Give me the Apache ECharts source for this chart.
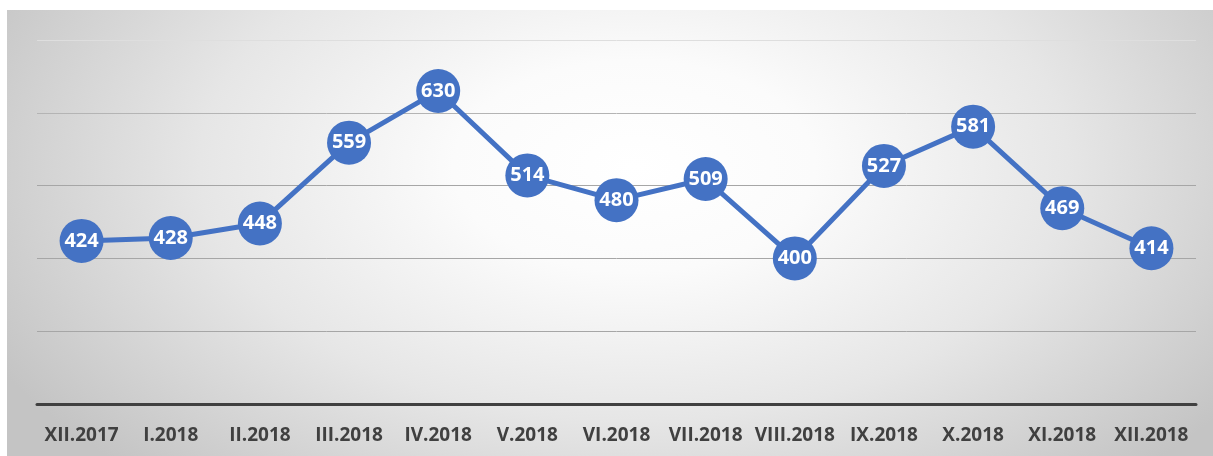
<!DOCTYPE html>
<html>
<head>
<meta charset="utf-8">
<script src="https://cdn.jsdelivr.net/npm/echarts@6/dist/echarts.min.js"></script>
<style>
html,body{margin:0;padding:0;background:#fff;}
#bg{position:absolute;left:7px;top:10px;width:1206px;height:446px;
background:radial-gradient(ellipse 60% 95% at 52% 35%, #ffffff 0%, #fbfbfb 25%, #e6e6e6 60%, #c4c4c4 100%);}
#c{position:absolute;left:0;top:0;width:1213px;height:456px;}
</style>
</head>
<body>
<div id="bg"></div>
<div id="c"></div>
<script>
const categories = ['XII.2017','I.2018','II.2018','III.2018','IV.2018','V.2018','VI.2018','VII.2018','VIII.2018','IX.2018','X.2018','XI.2018','XII.2018'];
const values = [424,428,448,559,630,514,480,509,400,527,581,469,414];
const yMin = 200, yMax = 700, yStep = 100;

const chart = echarts.init(document.getElementById('c'), null, {renderer:'canvas'});
chart.setOption({
  backgroundColor: 'transparent',
  animation: false,
  grid: {left: 37, right: 17, top: 40, bottom: 52, containLabel: false},
  xAxis: {
    type: 'category',
    data: categories,
    boundaryGap: true,
    axisLine: {show: true, lineStyle: {color: '#404040', width: 3}},
    axisTick: {show: false},
    axisLabel: {color: '#404040', fontFamily: 'Open Sans', fontWeight: 'bold', fontSize: 19, margin: 22, interval: 0}
  },
  yAxis: {
    type: 'value',
    min: yMin, max: yMax, interval: yStep,
    axisLine: {show: false},
    axisTick: {show: false},
    axisLabel: {show: false},
    splitLine: {show: true, lineStyle: {color: ['#a6a6a6','#a6a6a6','#a6a6a6','#a6a6a6','#b4b4b4','#dedede'], width: 1}}
  },
  series: [{
    type: 'line',
    data: values,
    symbol: 'circle',
    symbolSize: 44,
    lineStyle: {color: '#4472c4', width: 5},
    itemStyle: {color: '#4472c4'},
    label: {show: true, position: 'inside', color: '#ffffff', fontFamily: 'Open Sans', fontWeight: 'bold', fontSize: 20}
  }]
});
</script>
</body>
</html>
